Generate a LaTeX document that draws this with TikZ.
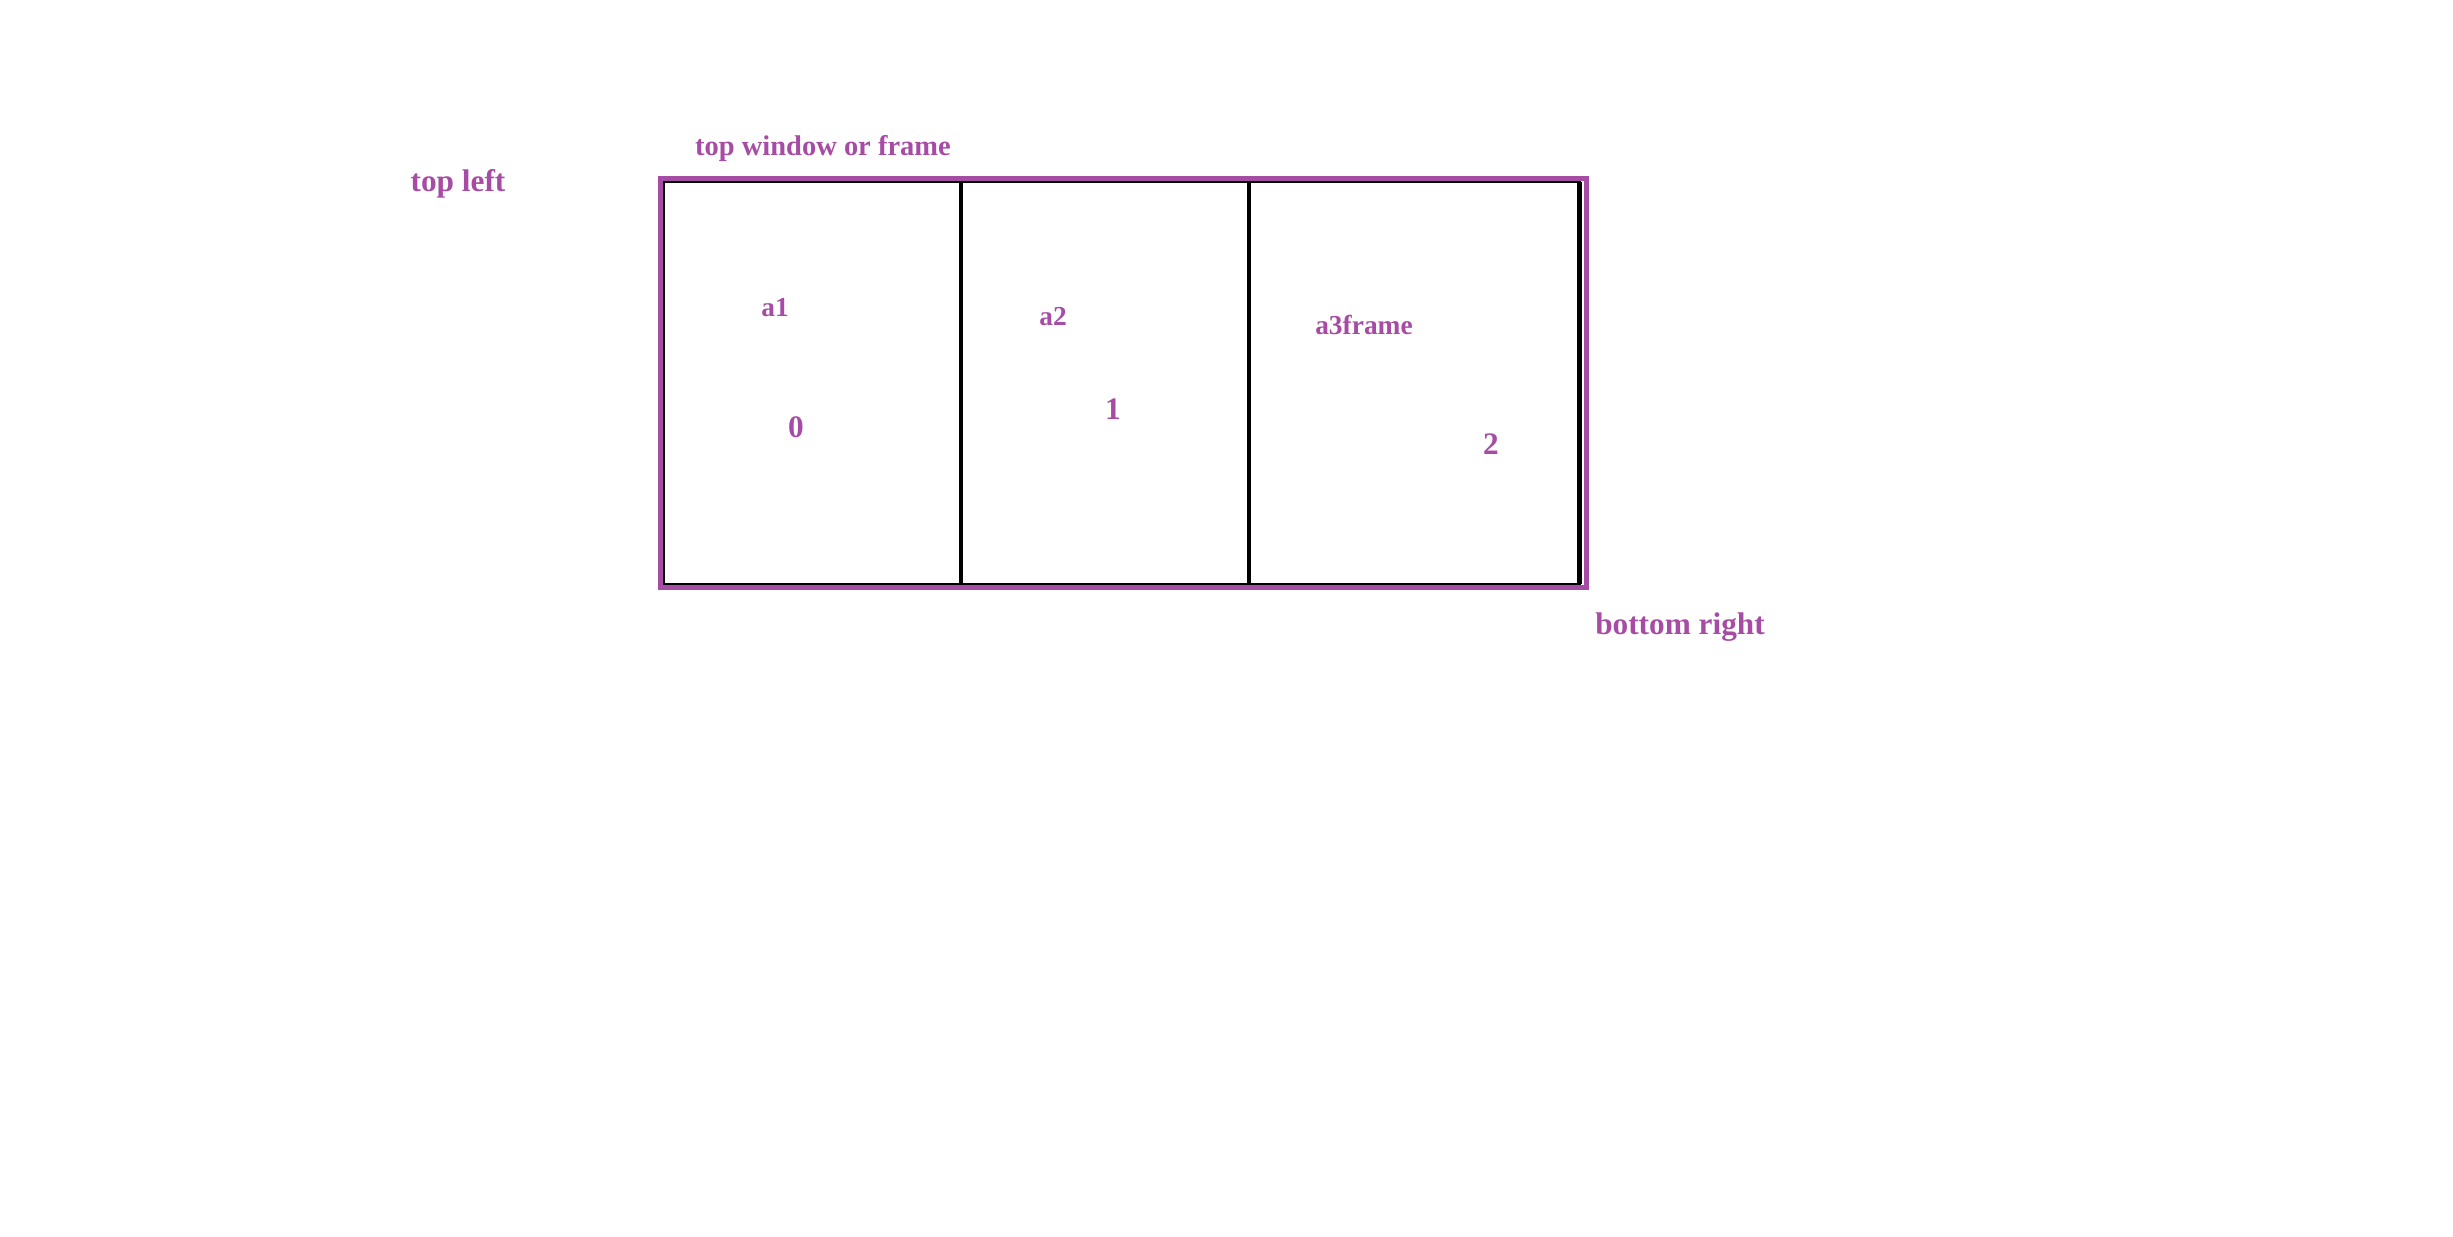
\documentclass[tikz,border=0pt]{standalone}
\usepackage{fontspec}
\setmainfont{Liberation Serif}
\usepackage{xcolor}
\usepackage{tikz}

\definecolor{winpurple}{RGB}{166,76,164}

\tikzset{
  lbl/.style={text=winpurple,inner sep=0pt,anchor=base,
    font=\bfseries\fontsize{7.8}{9}\selectfont},
  biglbl/.style={lbl,font=\bfseries\fontsize{8.9}{10}\selectfont}
}

\begin{document}
\begin{tikzpicture}[x=0.01cm,y=-0.01cm]
  \useasboundingbox (0,0) rectangle (2453,1237);
  % frames inside the top window
  \draw[line width=0.6pt] (664,182) rectangle (1579.5,584);
  \foreach \x in {961,1249} {
    \draw[line width=1.15pt] (\x,182) -- (\x,584);
  }
  \draw[line width=1.4pt] (1579.5,182) -- (1579.5,584);
  % the top window itself
  \draw[winpurple,line width=1.45pt] (660.5,178.5) rectangle (1586.5,587.5);
  % labels
  \node[biglbl] (topleft) at (458,192) {top left};
  \node[lbl,font=\bfseries\fontsize{8.1}{9}\selectfont] (topwin) at (823,156) {top window or frame};
  \node[lbl] (aone) at (775,317) {a1};
  \node[lbl] (atwo) at (1053,326) {a2};
  \node[lbl] (athree) at (1364,335) {a3frame};
  \foreach \n/\x/\y in {0/796/438,1/1113/420,2/1491/455} {
    \node[biglbl] (idx\n) at (\x,\y) {\n};
  }
  \node[biglbl] (botright) at (1680,635) {bottom right};
\end{tikzpicture}
\end{document}
